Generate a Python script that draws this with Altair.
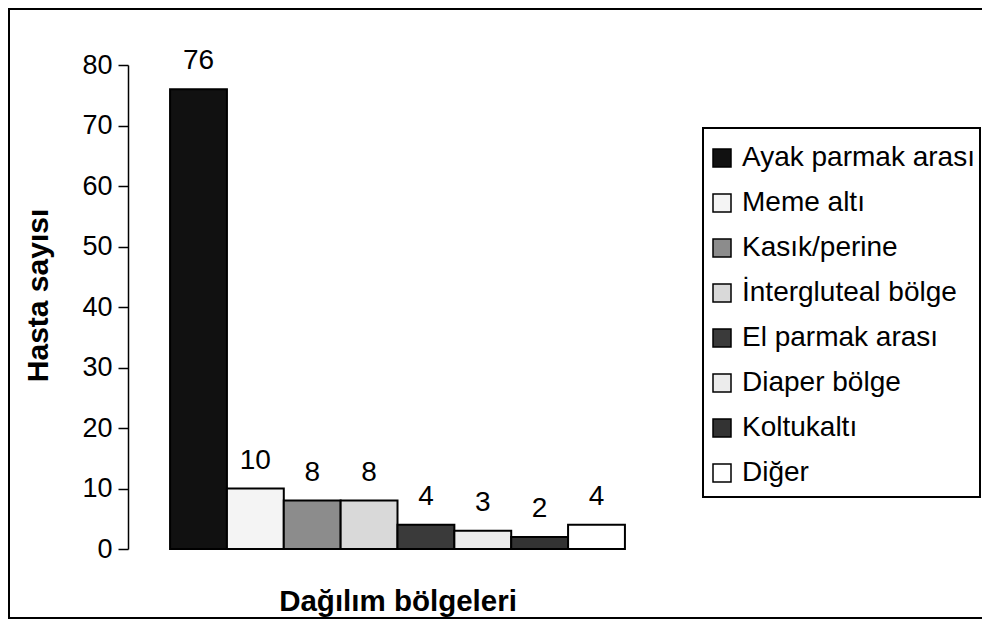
import altair as alt
import pandas as pd

categories = ["Ayak parmak arası", "Meme altı", "Kasık/perine", "İntergluteal bölge",
              "El parmak arası", "Diaper bölge", "Koltukaltı", "Diğer"]
counts = [76, 10, 8, 8, 4, 3, 2, 4]
fills = ["#111111", "#f4f4f4", "#8c8c8c", "#d9d9d9", "#3a3a3a", "#ececec", "#333333", "#ffffff"]
y_ticks = [0, 10, 20, 30, 40, 50, 60, 70, 80]

df = pd.DataFrame({"bolge": categories, "sayi": counts})
one = pd.DataFrame({"k": [0]})

FONT = "Liberation Sans"

x_enc = alt.X(
    "bolge:N", sort=categories,
    scale=alt.Scale(paddingInner=0, paddingOuter=0.74),
    axis=alt.Axis(title="Dağılım bölgeleri", labels=False, ticks=False, domain=False,
                  titleFontSize=29.5, titleFontWeight="bold", titlePadding=38,
                  titleFont=FONT, titleColor="black"),
)
y_enc = alt.Y(
    "sayi:Q",
    scale=alt.Scale(domain=[0, 80], nice=False),
    axis=alt.Axis(values=y_ticks, title="Hasta sayısı", grid=False, tickSize=10,
                  tickColor="black", domainColor="black", tickWidth=1.5, domainWidth=1.5,
                  labelFontSize=27, labelColor="black", labelFont=FONT, labelPadding=6,
                  titleFontSize=30, titleFontWeight="bold", titleFont=FONT,
                  titleColor="black", titlePadding=28, titleY=230),
)

# outer frame (top, left, bottom edges; the right edge lies outside the picture)
frame_top = alt.Chart(one).mark_rule(color="black", strokeWidth=2).encode(
    x=alt.value(-120), x2=alt.value(900), y=alt.value(-56)
)
frame_left = alt.Chart(one).mark_rule(color="black", strokeWidth=2).encode(
    x=alt.value(-119), y=alt.value(-57), y2=alt.value(554)
)
frame_bottom = alt.Chart(one).mark_rule(color="black", strokeWidth=2).encode(
    x=alt.value(-120), x2=alt.value(900), y=alt.value(553)
)

bars = alt.Chart(df).mark_bar(stroke="black", strokeWidth=2).encode(
    x=x_enc,
    y=y_enc,
    color=alt.Color(
        "bolge:N", sort=categories,
        scale=alt.Scale(domain=categories, range=fills),
        legend=alt.Legend(
            title=None, orient="none", legendX=572, legendY=71, padding=8,
            labelFontSize=28, labelFont=FONT, labelColor="black", labelLimit=400,
            symbolType="square", symbolSize=324, symbolStrokeColor="black",
            symbolStrokeWidth=1.5, rowPadding=17, labelOffset=6,
        ),
    ),
)

labels = alt.Chart(df).mark_text(dy=-20, baseline="alphabetic", fontSize=28, font=FONT,
                                 color="black").encode(
    x=alt.X("bolge:N", sort=categories),
    y="sayi:Q",
    text="sayi:Q",
)

legend_box = alt.Chart(one).mark_rect(fill="white", fillOpacity=0, stroke="black", strokeWidth=2).encode(
    x=alt.value(575), x2=alt.value(852), y=alt.value(63), y2=alt.value(432)
)

chart = alt.layer(frame_top, frame_left, frame_bottom, bars, labels, legend_box).properties(
    width=539, height=484,
    autosize=alt.AutoSizeParams(type="none"),
    padding={"left": 120, "top": 57, "right": 315, "bottom": 71},
    background="white",
).configure(font=FONT, view=alt.ViewConfig(stroke="transparent"))

chart.save("out.html", embed_options={"renderer": "svg", "actions": False})
